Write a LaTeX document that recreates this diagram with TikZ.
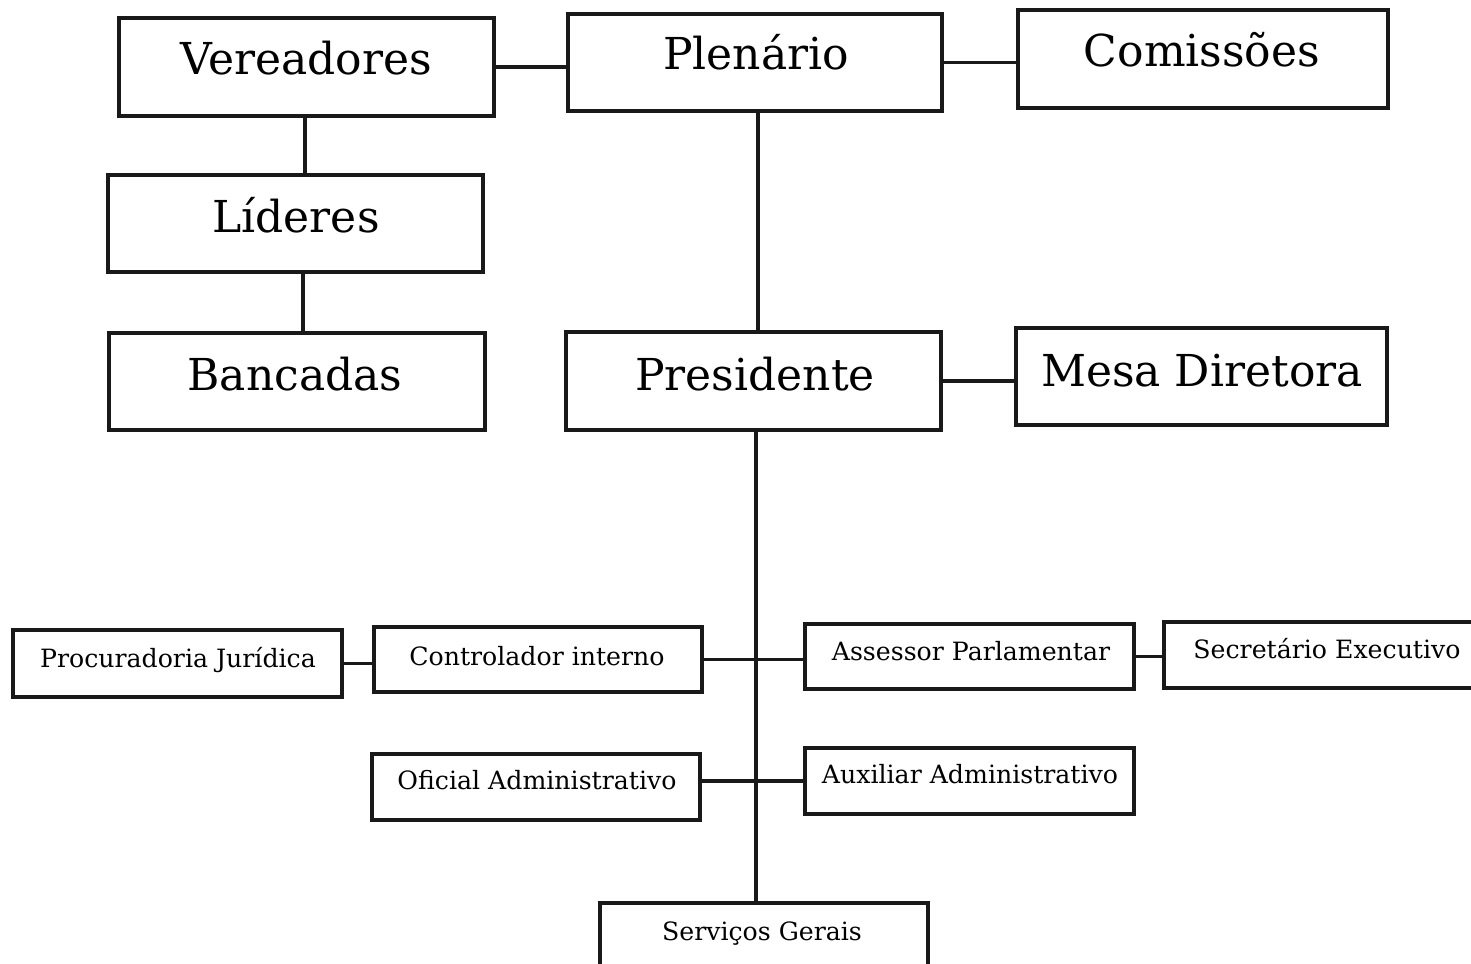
\documentclass[tikz,border=0pt]{standalone}
\usepackage{fontspec}
\setmainfont{DejaVu Serif}
\begin{document}
\begin{tikzpicture}[x=0.5pt,y=-0.5pt,
  box/.style={draw=black!90, line width=1.6pt, inner sep=0pt, fill=none},
  big/.style={anchor=base, inner sep=0pt, font=\fontsize{22}{25}\selectfont},
  small/.style={anchor=base, inner sep=0pt, font=\fontsize{12.6}{15}\selectfont},
  link/.style={draw=black!90, line width=1.6pt}]
\useasboundingbox (0,0) rectangle (1471,963);
\clip (0,0) rectangle (1471,963);
\fill[white] (0,0) rectangle (1471,963);
% boxes
\node[box, minimum width=187.5pt, minimum height=49pt] (ver) at (306.5,67) {};
\node[box, minimum width=187pt, minimum height=48.5pt] (ple) at (755,62.5) {};
\node[box, minimum width=185pt, minimum height=49pt] (com) at (1203,59) {};
\node[box, minimum width=187.5pt, minimum height=48.5pt] (lid) at (295.5,223.5) {};
\node[box, minimum width=188pt, minimum height=48.5pt] (ban) at (297,381.5) {};
\node[box, minimum width=187.5pt, minimum height=49pt] (pre) at (753.5,381) {};
\node[box, minimum width=185.5pt, minimum height=48.5pt] (mes) at (1201.5,376.5) {};
\node[box, minimum width=164.5pt, minimum height=33.5pt] (pro) at (177.5,663.5) {};
\node[box, minimum width=164pt, minimum height=32.5pt] (con) at (538,659.5) {};
\node[box, minimum width=164.5pt, minimum height=32.5pt] (ass) at (969.5,656.5) {};
\node[box, minimum width=155.5pt, minimum height=33pt] (sec) at (1319.5,655) {};
\node[box, minimum width=164pt, minimum height=33pt] (ofi) at (536,787) {};
\node[box, minimum width=164.5pt, minimum height=33pt] (aux) at (969.5,781) {};
\node[box, minimum width=164pt, minimum height=33.5pt] (ser) at (764,936.5) {};
% texts
\node[big] (tver) at (306,75) {Vereadores};
\node[big] (tple) at (756,70) {Plenário};
\node[big] (tcom) at (1202,67) {Comissões};
\node[big] (tlid) at (296,232) {Líderes};
\node[big] (tban) at (295,390) {Bancadas};
\node[big] (tpre) at (755,390) {Presidente};
\node[big] (tmes) at (1202,386) {Mesa Diretora};
\node[small] (tpro) at (178,667) {Procuradoria Jurídica};
\node[small] (tcon) at (537,665) {Controlador interno};
\node[small] (tass) at (971,660) {Assessor Parlamentar};
\node[small] (tsec) at (1327,658) {Secretário Executivo};
\node[small] (tofi) at (537,789) {Oficial Administrativo};
\node[small] (taux) at (970,783) {Auxiliar Administrativo};
\node[small] (tser) at (762,940) {Serviços Gerais};
% connectors
\draw[link] (ver.east) -- (ver.east -| ple.west);
\draw[link] (ple.east) -- (ple.east -| com.west);
\draw[link] ([xshift=-0.75pt]ver.south) -- ([xshift=-0.75pt]ver.south |- lid.north);
\draw[link] ([xshift=3.75pt]lid.south) -- ([xshift=3.75pt]lid.south |- ban.north);
\draw[link] ([xshift=1.5pt]ple.south) -- ([xshift=1.5pt]ple.south |- pre.north);
\draw[link] (pre.east) -- (pre.east -| mes.west);
\draw[link] ([xshift=1.25pt]pre.south) -- ([xshift=1.25pt]pre.south |- ser.north);
\draw[link] (pro.east) -- (pro.east -| con.west);
\draw[link] (con.east) -- (con.east -| ass.west);
\draw[link] (ass.east) -- (ass.east -| sec.west);
\draw[link] (aux.west) -- (aux.west -| ofi.east);
\end{tikzpicture}
\end{document}
